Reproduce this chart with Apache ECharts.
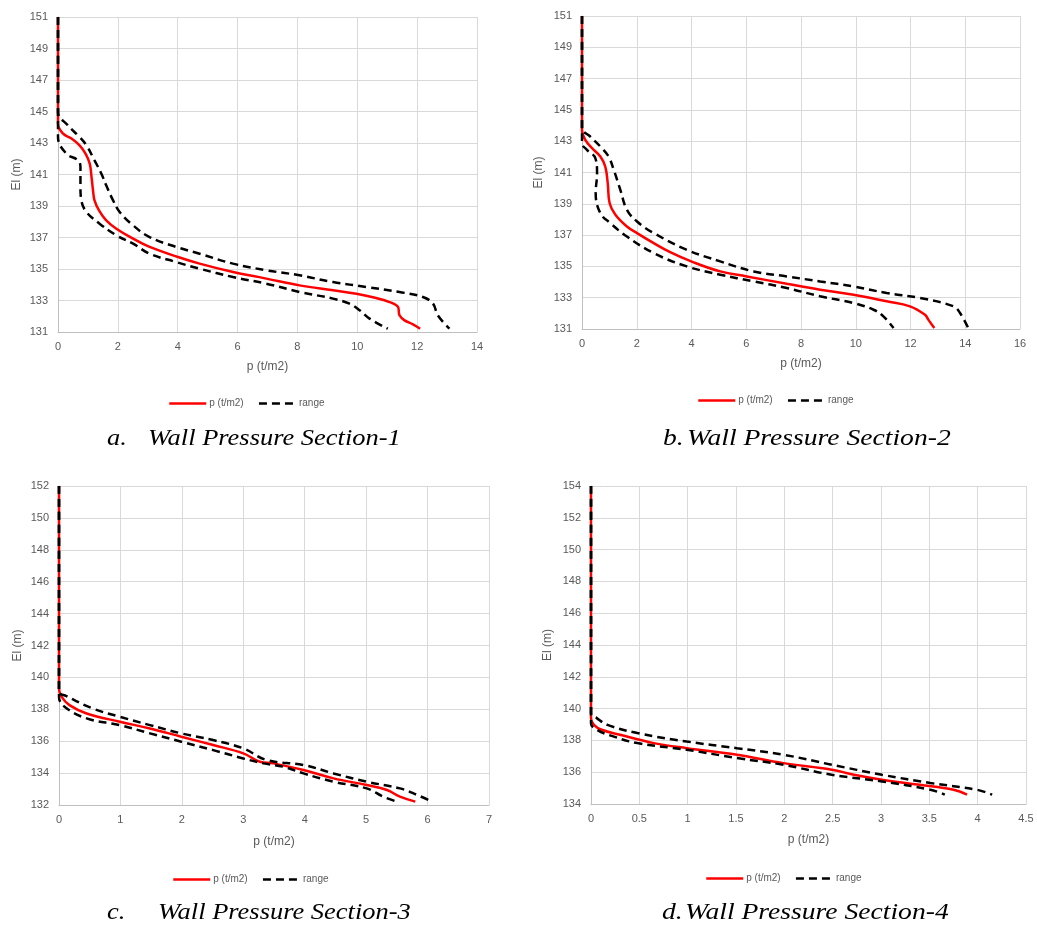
<!DOCTYPE html>
<html>
<head>
<meta charset="utf-8">
<script src="https://cdn.jsdelivr.net/npm/echarts@6/dist/echarts.min.js"></script>
<style>
html,body{margin:0;padding:0;background:#fff;}
#chart{width:1037px;height:928px;}
</style>
</head>
<body>
<div id="chart"></div>
<script>
// ---------- DATA (x = p in t/m2, y = El in m) ----------
const secA_p = [[0,151],[0,144.23],[0.17,143.59],[0.45,143.28],[0.72,142.85],[0.92,142.32],[1.06,141.69],[1.12,140.84],[1.17,139.99],[1.22,139.36],[1.37,138.72],[1.61,138.09],[1.95,137.56],[2.51,136.93],[3.06,136.40],[4.01,135.76],[4.73,135.34],[5.85,134.81],[6.96,134.39],[8.07,133.96],[9.19,133.65],[9.97,133.43],[10.63,133.16],[11.08,132.90],[11.36,132.59],[11.41,132.06],[11.58,131.74],[11.86,131.49],[12.10,131.21]];
const secA_hi = [[0,151],[0,144.97],[0.33,144.12],[0.72,143.38],[0.95,142.85],[1.22,141.90],[1.45,141.05],[1.61,140.31],[1.84,139.36],[2.06,138.62],[2.51,137.77],[3.06,137.03],[3.95,136.40],[4.73,135.97],[5.85,135.34],[6.96,134.92],[8.07,134.60],[9.19,134.17],[10.30,133.86],[11.41,133.54],[12.19,133.22],[12.53,132.80],[12.69,132.06],[13.08,131.21]];
const secA_lo = [[0,151],[0,143.38],[0.28,142.32],[0.67,141.90],[0.75,141.48],[0.75,140.21],[0.78,139.36],[0.95,138.62],[1.39,137.88],[1.95,137.14],[2.51,136.61],[3.06,135.97],[3.95,135.44],[4.73,135.02],[5.85,134.49],[6.96,134.07],[8.07,133.54],[9.19,133.12],[9.74,132.80],[10.08,132.38],[10.41,131.85],[11.02,131.21]];

const secB_p = [[0,151],[0,143.72],[0.12,143.09],[0.37,142.55],[0.67,142.02],[0.85,141.38],[0.94,140.32],[1.01,139.04],[1.22,138.30],[1.64,137.55],[2.01,137.13],[2.62,136.49],[3.22,135.91],[3.99,135.32],[5.05,134.68],[6.02,134.36],[7.48,133.89],[8.70,133.51],[9.92,133.19],[11.13,132.77],[11.98,132.45],[12.53,131.91],[12.65,131.60],[12.87,131.06]];
const secB_hi = [[0,151],[0,143.83],[0.30,143.30],[0.67,142.66],[0.97,142.02],[1.16,141.17],[1.40,139.89],[1.64,138.62],[2.01,137.87],[2.62,137.13],[3.83,136.06],[5.05,135.32],[6.27,134.68],[7.48,134.36],[8.70,134.04],[9.92,133.72],[11.13,133.30],[12.35,132.98],[13.57,132.45],[13.81,132.02],[14.11,131.06]];
const secB_lo = [[0,151],[0,142.87],[0.18,142.45],[0.49,141.91],[0.55,140.96],[0.50,139.68],[0.67,138.40],[1.03,137.77],[1.64,136.91],[2.62,135.85],[3.83,135.00],[5.05,134.47],[6.27,134.04],[7.48,133.62],[8.70,133.09],[9.92,132.66],[10.65,132.23],[11.01,131.81],[11.38,131.06]];

const secC_p = [[0,152],[0,139.31],[0.04,138.79],[0.17,138.26],[0.45,137.74],[0.99,137.22],[1.48,136.80],[1.99,136.28],[2.51,135.76],[3.00,135.24],[3.27,134.71],[3.49,134.61],[3.98,134.19],[4.47,133.67],[5.01,133.25],[5.34,132.94],[5.55,132.52],[5.80,132.21]];
const secC_hi = [[0,152],[0,139.10],[0.12,138.83],[0.55,138.05],[0.99,137.53],[1.48,137.01],[1.99,136.49],[2.51,136.07],[3.00,135.55],[3.38,134.82],[3.98,134.51],[4.47,133.98],[5.01,133.46],[5.55,133.04],[5.83,132.63],[6.07,132.21]];
const secC_lo = [[0,152],[0,138.79],[0.09,138.16],[0.45,137.43],[0.99,137.01],[1.48,136.49],[1.99,135.97],[2.51,135.44],[3.00,134.92],[3.33,134.61],[3.65,134.40],[3.98,133.98],[4.47,133.46],[5.01,133.04],[5.28,132.52],[5.50,132.21]];

const secD_p = [[0,154],[0,139.40],[0.03,138.98],[0.11,138.67],[0.30,138.35],[0.65,137.83],[0.99,137.51],[1.51,137.10],[1.99,136.57],[2.49,136.16],[2.72,135.84],[3.01,135.53],[3.40,135.21],[3.75,134.90],[3.89,134.59]];
const secD_hi = [[0,154],[0,139.71],[0.06,139.40],[0.17,138.98],[0.48,138.46],[0.99,137.93],[1.51,137.51],[1.99,137.10],[2.49,136.47],[3.01,135.84],[3.51,135.32],[3.99,134.90],[4.15,134.59]];
const secD_lo = [[0,154],[0,139.08],[0.06,138.67],[0.23,138.25],[0.48,137.83],[0.99,137.41],[1.51,136.89],[1.99,136.47],[2.49,135.84],[3.01,135.42],[3.51,134.90],[3.66,134.59]];

const xRanges = [[0,14,2],[0,16,2],[0,7,1],[0,4.5,0.5]];
const yRanges = [[131,151,2],[131,151,2],[132,152,2],[134,154,2]];
const captionLabels = ['a.','b.','c.','d.'];
const captionTexts = ['Wall Pressure Section-1','Wall Pressure Section-2','Wall Pressure Section-3','Wall Pressure Section-4'];
const seriesNames = ['p (t/m2)','range'];
const panelData = [[secA_p,secA_hi,secA_lo],[secB_p,secB_hi,secB_lo],[secC_p,secC_hi,secC_lo],[secD_p,secD_hi,secD_lo]];

// ---------- LAYOUT ----------
const grids = [
  {left:58, top:17, width:419, height:315},
  {left:582, top:16, width:438, height:313},
  {left:59, top:486, width:430, height:319},
  {left:591, top:486, width:435, height:318}
];
const xNameGap = [29,29,31,30];
const yNameGap = [35,37,35,37];
const legendPos = [{left:163,top:393},{left:692,top:390},{left:167,top:869},{left:700,top:868}];
const capLabelX = [107,663,107,662];
const capTextX = [148,687,158,685];
const capScale = [1.15,1.2,1.15,1.2];
const capMidY = [439,439,913,913];

const gray = '#595959';
const gridColor = '#d9d9d9';
const labelFont = "'Liberation Sans', Arial, sans-serif";
const capFont = "italic 23px 'Liberation Serif','Times New Roman',serif";

const option = {
  animation:false,
  backgroundColor:'#fff',
  legend:[],
  grid:grids.map(g=>Object.assign({containLabel:false},g)),
  xAxis:[], yAxis:[], series:[],
  graphic:[]
};

for(let i=0;i<4;i++){
  option.graphic.push({type:'text', x:capLabelX[i], y:capMidY[i], scaleX:capScale[i], silent:true,
    style:{text:captionLabels[i], font:capFont, fill:'#000', textAlign:'left', textVerticalAlign:'middle', verticalAlign:'middle'}});
  option.graphic.push({type:'text', x:capTextX[i], y:capMidY[i], scaleX:capScale[i], silent:true,
    style:{text:captionTexts[i], font:capFont, fill:'#000', textAlign:'left', textVerticalAlign:'middle', verticalAlign:'middle'}});
  option.xAxis.push({
    type:'value', gridIndex:i, min:xRanges[i][0], max:xRanges[i][1], interval:xRanges[i][2],
    name:'p (t/m2)', nameLocation:'middle', nameGap:xNameGap[i],
    nameTextStyle:{color:gray,fontSize:12,fontFamily:labelFont},
    axisLine:{show:true,lineStyle:{color:'#bfbfbf',width:1}},
    axisTick:{show:false},
    axisLabel:{color:gray,fontSize:11,fontFamily:labelFont,margin:9},
    splitLine:{show:true,lineStyle:{color:gridColor,width:1}}
  });
  option.yAxis.push({
    type:'value', gridIndex:i, min:yRanges[i][0], max:yRanges[i][1], interval:yRanges[i][2],
    name:'El (m)', nameLocation:'middle', nameGap:yNameGap[i],
    nameTextStyle:{color:gray,fontSize:12,fontFamily:labelFont},
    axisLine:{show:true,lineStyle:{color:'#bfbfbf',width:1}},
    axisTick:{show:false},
    axisLabel:{color:gray,fontSize:11,fontFamily:labelFont,margin:10},
    splitLine:{show:true,lineStyle:{color:gridColor,width:1}}
  });
  const [p,hi,lo] = panelData[i];
  option.series.push({type:'line',name:seriesNames[0],id:'p'+i,xAxisIndex:i,yAxisIndex:i,data:p,
    showSymbol:false,symbol:'none',smooth:0.4,clip:false,
    lineStyle:{color:'#ff0000',width:2.5},itemStyle:{color:'#ff0000'}});
  option.series.push({type:'line',name:seriesNames[1],id:'hi'+i,xAxisIndex:i,yAxisIndex:i,data:hi,
    showSymbol:false,symbol:'none',smooth:0.4,clip:false,
    lineStyle:{color:'#000',width:2.5,type:[8,5]},itemStyle:{color:'#000'}});
  option.series.push({type:'line',name:seriesNames[1],id:'lo'+i,xAxisIndex:i,yAxisIndex:i,data:lo,
    showSymbol:false,symbol:'none',smooth:0.4,clip:false,
    lineStyle:{color:'#000',width:2.5,type:[8,5]},itemStyle:{color:'#000'}});
  option.legend.push({
    left:legendPos[i].left, top:legendPos[i].top, orient:'horizontal',
    data:[seriesNames[0],seriesNames[1]],
    itemWidth:37, itemHeight:14, itemGap:14,
    itemStyle:{opacity:0},
    lineStyle:{width:2.5},
    textStyle:{color:gray,fontSize:10,fontFamily:labelFont,padding:[0,0,0,-2]},
    selectedMode:false
  });
}

const chart = echarts.init(document.getElementById('chart'),null,{renderer:'canvas'});
chart.setOption(option);
</script>
</body>
</html>
